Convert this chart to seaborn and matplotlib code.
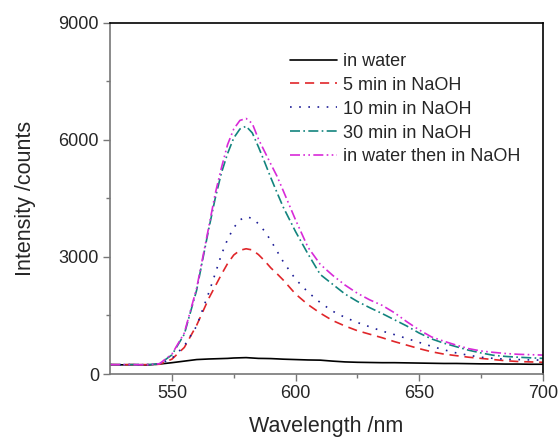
import numpy as np
import pandas as pd
import matplotlib
matplotlib.use("Agg")
import matplotlib.pyplot as plt
import seaborn as sns

# emission spectra (finer steps around the peak)
wavelength = [525, 530, 535, 540, 545, 550, 555, 560, 565, 567.5, 570, 572.5,
              575, 577.5, 580, 582.5, 585, 587.5, 590, 592.5, 595, 600, 605, 610,
              615, 620, 625, 630, 635, 640, 645, 650, 655, 660, 665, 670,
              675, 680, 685, 690, 695, 700]

in_water = [240, 235, 240, 230, 255, 290, 330, 370, 385, 390, 395, 400,
            410, 415, 420, 410, 400, 398, 395, 388, 380, 370, 360, 355,
            330, 310, 300, 295, 290, 290, 285, 280, 275, 270, 270, 265,
            260, 260, 255, 255, 250, 250]

naoh_5min = [240, 240, 240, 240, 250, 380, 680, 1250, 1950, 2250, 2550, 2830,
             3050, 3170, 3210, 3180, 3060, 2900, 2720, 2570, 2410, 2050, 1780, 1560,
             1370, 1230, 1110, 1020, 930, 830, 740, 650, 570, 510, 470, 430,
             400, 370, 340, 320, 310, 300]

naoh_10min = [240, 240, 240, 240, 255, 400, 720, 1230, 2100, 2570, 3060, 3450,
              3750, 3950, 4030, 3990, 3850, 3660, 3420, 3150, 2880, 2430, 2100, 1830,
              1610, 1450, 1320, 1210, 1100, 1010, 910, 810, 710, 620, 540, 480,
              430, 400, 380, 370, 360, 355]

naoh_30min = [240, 240, 240, 240, 260, 490, 1020, 2150, 3750, 4500, 5150, 5650,
              6050, 6280, 6350, 6180, 5820, 5430, 5030, 4650, 4280, 3650, 3080, 2550,
              2300, 2050, 1860, 1700, 1550, 1390, 1230, 1050, 900, 790, 700, 610,
              540, 480, 450, 430, 415, 400]

water_then_naoh = [240, 240, 240, 235, 265, 510, 1050, 2200, 3800, 4620, 5280, 5880,
                   6280, 6500, 6550, 6420, 6020, 5700, 5380, 5070, 4700, 3950, 3250, 2810,
                   2530, 2280, 2070, 1900, 1760, 1570, 1340, 1130, 950, 840, 740, 650,
                   590, 555, 525, 505, 495, 485]

labels = ["in water", "5 min in NaOH", "10 min in NaOH",
          "30 min in NaOH", "in water then in NaOH"]
series = [in_water, naoh_5min, naoh_10min, naoh_30min, water_then_naoh]
colors = ["#000000", "#e0262a", "#1c1c96", "#13847e", "#d82ad8"]
styles = ["-", (0, (5.5, 3.5)), (0, (1, 4.5)), (0, (6, 2, 1, 2)), (0, (6, 2, 1, 2, 1, 2))]

sns.set_style("ticks")
plt.rcParams["font.family"] = ["Liberation Sans", "DejaVu Sans"]

fig = plt.figure(figsize=(5.59, 4.40), dpi=100)
ax = fig.add_axes([0.197, 0.15, 0.774, 0.798])

for lab, vals, col, ls in zip(labels, series, colors, styles):
    df = pd.DataFrame({"wl": wavelength, "I": vals})
    sns.lineplot(data=df, x="wl", y="I", ax=ax, color=col, linestyle=ls,
                 linewidth=1.2, label=lab)

ax.set_xlim(525, 700)
ax.set_ylim(0, 9000)
ax.set_xticks([550, 600, 650, 700])
ax.set_xticks([575, 625, 675], minor=True)
ax.set_yticks([0, 3000, 6000, 9000])
ax.set_yticks([1500, 4500, 7500], minor=True)

ax.set_xlabel("Wavelength /nm", fontsize=15.5, labelpad=10)
ax.set_ylabel("Intensity /counts", fontsize=15.5, labelpad=16)
ax.tick_params(axis="both", which="major", labelsize=13, length=5, width=1,
               color="#777777", pad=3)
ax.tick_params(axis="both", which="minor", length=3, width=1, color="#777777")

for side in ["left", "bottom"]:
    ax.spines[side].set_color("#777777")
    ax.spines[side].set_linewidth(1.2)
for side in ["top", "right"]:
    ax.spines[side].set_visible(True)
    ax.spines[side].set_color("black")
    ax.spines[side].set_linewidth(1.2)

leg = ax.legend(loc="upper left", bbox_to_anchor=(0.40, 0.935), frameon=False,
                fontsize=13, handlelength=2.6, handletextpad=0.3,
                labelspacing=0.38, borderaxespad=0)

fig.savefig("out.png", dpi=100)
